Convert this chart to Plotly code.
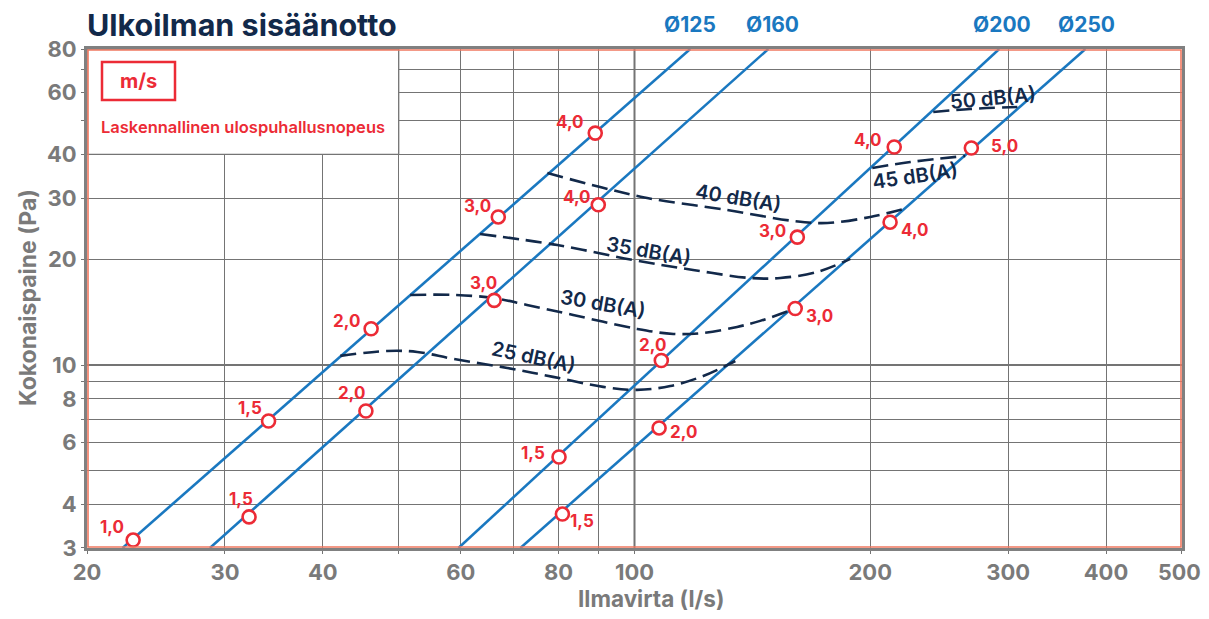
import numpy as np
import plotly.graph_objects as go

# ---------------- data ----------------
title_text = "Ulkoilman sisäänotto"
x_title = "Ilmavirta (l/s)"
y_title = "Kokonaispaine (Pa)"

x_tickvals = [20, 30, 40, 50, 60, 70, 80, 90, 100, 200, 300, 400, 500]
x_ticktext = ["20", "30", "40", "", "60", "", "80", "", "100", "200", "300", "400", "500"]
y_tickvals = [3, 4, 5, 6, 7, 8, 9, 10, 20, 30, 40, 50, 60, 70, 80]
y_ticktext = ["3", "4", "", "6", "", "8", "", "10", "20", "30", "40", "", "60", "", "80"]

duct_names = ["Ø125", "Ø160", "Ø200", "Ø250"]
duct_flow_ends = [[22.2, 117.8], [28.7, 148.2], [59.6, 292.2], [71.5, 376.5]]
duct_pressure_ends = [3, 80]

vel_125_q = [22.9, 34.1, 46.1, 67.0, 89.1]
vel_125_p = [3.16, 6.92, 12.7, 26.5, 46.0]
vel_125_lab = ["1,0", "1,5", "2,0", "3,0", "4,0"]

vel_160_q = [32.2, 45.4, 66.2, 89.9]
vel_160_p = [3.68, 7.39, 15.3, 28.7]
vel_160_lab = ["1,5", "2,0", "3,0", "4,0"]

vel_200_q = [80.1, 108.2, 161.4, 214.6]
vel_200_p = [5.46, 10.3, 23.2, 42.0]
vel_200_lab = ["1,5", "2,0", "3,0", "4,0"]

vel_250_q = [80.9, 107.5, 160.4, 212.0, 269.2]
vel_250_p = [3.75, 6.61, 14.5, 25.6, 41.7]
vel_250_lab = ["1,5", "2,0", "3,0", "4,0", "5,0"]

db_names = ["25 dB(A)", "30 dB(A)", "35 dB(A)", "40 dB(A)", "45 dB(A)", "50 dB(A)"]
db25_q = [42.1, 48.3, 52.8, 58.7, 68.8, 78.7, 91.2, 100.8, 111.1, 122.4, 134.5]
db25_p = [10.62, 10.97, 10.90, 10.41, 9.81, 9.25, 8.66, 8.49, 8.71, 9.30, 10.27]
db30_q = [51.7, 58.7, 66.0, 72.9, 83.5, 100.8, 112.1, 122.4, 135.2, 144.7, 160.4]
db30_p = [15.86, 15.86, 15.55, 14.85, 13.90, 12.68, 12.27, 12.35, 12.85, 13.37, 14.5]
db35_q = [63.5, 79.7, 99.6, 118.8, 140.5, 153.5, 171.1, 188.6]
db35_p = [23.69, 22.03, 19.96, 18.69, 17.73, 17.73, 18.45, 20.10]
db40_q = [77.4, 90.4, 103.8, 131.3, 159.5, 176.3, 200.0, 223.0]
db40_p = [35.37, 32.26, 30.01, 27.74, 25.81, 25.46, 26.49, 28.10]
db45_q = [201.2, 225.0, 264.4]
db45_p = [36.57, 38.04, 39.57]
db50_q = [240.7, 268.4, 308.2]
db50_p = [52.86, 53.93, 54.63]

db_label_q = [74.2, 91.2, 104.1, 135.7, 228.2, 287.2]
db_label_p = [10.54, 14.95, 21.18, 30.0, 34.7, 57.95]

legend_unit = "m/s"
legend_text = "Laskennallinen ulospuhallusnopeus"

# ---------------- style ----------------
BLUE = "#1a78c0"
RED = "#ec2b36"
NAVY = "#12294a"
GREY = "#7a7a7a"
GRID = "#747474"
FONT = "Inter"

# label offsets (pixels: dx right, dy down) for velocity labels
off_125 = [(-21, -13), (-19, -13), (-25, -8), (-21, -11), (-25, -11)]
off_160 = [(-8, -18), (-14, -18), (-11, -17), (-21, -8)]
off_200 = [(-26, -4), (-9, -16), (-25, -6), (-26, -7)]
off_250 = [(20, 7), (24, 4), (24, 7), (25, 8), (33, -2)]
db_angles = [12, 10, 10, 9.5, -8, -5.5]

# page geometry (page has an 8px body margin)
OFF = 8
PL, PT, PR, PB = 87, 49, 1182, 548      # plot area in page pixels
W, H = 1193, 603
pw, ph = PR - PL, PB - PT


def px_x(x):
    return (x - PL) / pw


def px_y(y):
    return 1 - (y - PT) / ph


fig = go.Figure()

# duct lines
for name, qs in zip(duct_names, duct_flow_ends):
    fig.add_trace(go.Scatter(x=qs, y=duct_pressure_ends, mode="lines",
                             line=dict(color=BLUE, width=2.6), hoverinfo="skip",
                             showlegend=False))

# dB curves
db_curves = [(db25_q, db25_p), (db30_q, db30_p), (db35_q, db35_p),
             (db40_q, db40_p), (db45_q, db45_p), (db50_q, db50_p)]
for q, p in db_curves:
    fig.add_trace(go.Scatter(x=q, y=p, mode="lines",
                             line=dict(color=NAVY, width=2.6, dash="16px,7px", shape="spline", smoothing=1.0),
                             hoverinfo="skip", showlegend=False))

# velocity markers
vel_sets = [(vel_125_q, vel_125_p, vel_125_lab, off_125),
            (vel_160_q, vel_160_p, vel_160_lab, off_160),
            (vel_200_q, vel_200_p, vel_200_lab, off_200),
            (vel_250_q, vel_250_p, vel_250_lab, off_250)]
annotations = []
for q, p, labs, offs in vel_sets:
    fig.add_trace(go.Scatter(x=q, y=p, mode="markers",
                             marker=dict(symbol="circle", size=13, color="white",
                                         line=dict(color=RED, width=2.6)),
                             hoverinfo="skip", showlegend=False))
    for qi, pi, lab, (dx, dy) in zip(q, p, labs, offs):
        annotations.append(dict(x=np.log10(qi), y=np.log10(pi), xref="x", yref="y",
                                xanchor="center", yanchor="middle",
                                text=lab, showarrow=False, xshift=dx, yshift=-dy,
                                font=dict(family=FONT, size=17, color=RED, weight=700)))

# dB labels
for name, q, p, ang in zip(db_names, db_label_q, db_label_p, db_angles):
    annotations.append(dict(x=np.log10(q), y=np.log10(p), xref="x", yref="y",
                            xanchor="center", yanchor="middle",
                            text=name, showarrow=False, textangle=ang,
                            font=dict(family=FONT, size=20, color=NAVY, weight=600)))

# duct names above plot
duct_label_px = [690, 772, 1002, 1086]
for name, px in zip(duct_names, duct_label_px):
    annotations.append(dict(x=px_x(px), y=px_y(25), xref="paper", yref="paper",
                            xanchor="center", yanchor="middle",
                            text=name, showarrow=False,
                            font=dict(family=FONT, size=21, color=BLUE, weight=700)))

# title
annotations.append(dict(x=px_x(86), y=px_y(25), xref="paper", yref="paper",
                        xanchor="left", yanchor="middle", text=title_text, showarrow=False,
                        borderpad=0,
                        font=dict(family=FONT, size=30.5, color=NAVY, weight=700)))

# legend box content
annotations.append(dict(x=px_x(138), y=px_y(81), xref="paper", yref="paper",
                        xanchor="center", yanchor="middle",
                        text=legend_unit, showarrow=False,
                        font=dict(family=FONT, size=20, color=RED, weight=700)))
annotations.append(dict(x=px_x(99), y=px_y(127), xref="paper", yref="paper",
                        xanchor="left", yanchor="middle", text=legend_text, showarrow=False,
                        font=dict(family=FONT, size=16.5, color=RED, weight=600)))

# axis titles
annotations.append(dict(x=px_x(651), y=px_y(598), xref="paper", yref="paper",
                        xanchor="center", yanchor="middle", borderpad=0,
                        text=x_title, showarrow=False,
                        font=dict(family=FONT, size=22.5, color=GREY, weight=700)))
annotations.append(dict(x=px_x(28), y=px_y(298), xref="paper", yref="paper",
                        xanchor="center", yanchor="middle",
                        text=y_title, showarrow=False, textangle=-90,
                        font=dict(family=FONT, size=23, color=GREY, weight=700)))

# last x tick label (at the figure edge) drawn as an annotation so it is not hidden
x_axis_ticktext = list(x_ticktext)
x_axis_ticktext[-1] = ""
annotations.append(dict(x=np.log10(x_tickvals[-1]), y=px_y(572), xref="x", yref="paper",
                        xanchor="center", yanchor="middle", borderpad=0, xshift=-2,
                        text=x_ticktext[-1], showarrow=False,
                        font=dict(family=FONT, size=21.5, color=GREY, weight=700)))

box_x1 = np.log10(50 / 20) / np.log10(500 / 20)
box_y0 = np.log10(40 / 3) / np.log10(80 / 3)
x100 = np.log10(100 / 20) / np.log10(25)
y10 = np.log10(10 / 3) / np.log10(80 / 3)
shapes = [
    # legend box
    dict(type="rect", xref="paper", yref="paper", x0=0, x1=box_x1, y0=box_y0, y1=1,
         fillcolor="white", line=dict(color=GRID, width=1.3), layer="above"),
    # m/s box
    dict(type="rect", xref="paper", yref="paper",
         x0=px_x(102), x1=px_x(175), y0=px_y(100), y1=px_y(62),
         fillcolor="white", line=dict(color=RED, width=2.5), layer="above"),
    # heavier lines at 100 l/s and 10 Pa
    dict(type="line", xref="paper", yref="paper", x0=x100, x1=x100, y0=0, y1=1,
         line=dict(color=GRID, width=2), layer="below"),
    dict(type="line", xref="paper", yref="paper", x0=0, x1=1, y0=y10, y1=y10,
         line=dict(color=GRID, width=2), layer="below"),
    # frame
    dict(type="rect", xref="paper", yref="paper", x0=-1.5 / pw, x1=1 + 1.5 / pw, y0=-1.5 / ph, y1=1 + 1.5 / ph,
         line=dict(color="#808080", width=3), layer="above"),
    dict(type="rect", xref="paper", yref="paper", x0=1 / pw, x1=1 - 1 / pw, y0=1 / ph, y1=1 - 1 / ph,
         line=dict(color="#f07860", width=1.6), layer="above"),
]

eps = 1e-4
fig.update_layout(
    width=W, height=H,
    margin=dict(l=PL - OFF, r=W + OFF - PR, t=PT - OFF, b=H + OFF - PB, pad=0),
    paper_bgcolor="white", plot_bgcolor="white",
    showlegend=False,
    annotations=annotations,
    shapes=shapes,
    xaxis=dict(type="log", range=[np.log10(20) - eps, np.log10(500) + eps],
               tickvals=x_tickvals, ticktext=x_axis_ticktext,
               showgrid=True, gridcolor=GRID, gridwidth=1.3,
               ticks="outside", ticklen=5, tickcolor=GRID, tickwidth=1.3,
               showline=False, zeroline=False, automargin=False,
               tickfont=dict(family=FONT, size=22, color=GREY, weight=700)),
    yaxis=dict(type="log", range=[np.log10(3) - eps, np.log10(80) + eps],
               tickvals=y_tickvals, ticktext=y_ticktext,
               showgrid=True, gridcolor=GRID, gridwidth=1.3,
               ticks="outside", ticklen=5, tickcolor=GRID, tickwidth=1.3,
               showline=False, zeroline=False, automargin=False,
               tickfont=dict(family=FONT, size=22, color=GREY, weight=700)),
)

fig.write_html("out.html")
